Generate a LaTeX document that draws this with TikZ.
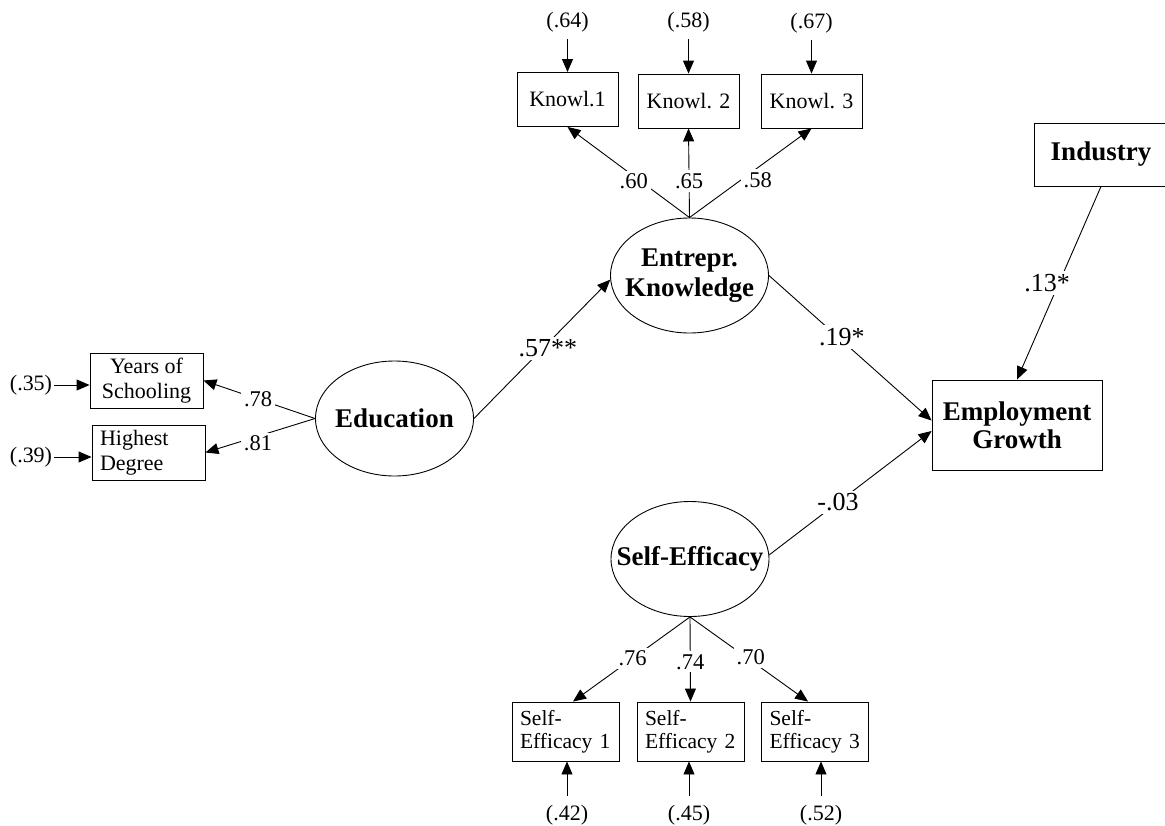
\documentclass[tikz,border=0pt]{standalone}
\usepackage{fontspec}
\setmainfont{Liberation Serif}
\usetikzlibrary{arrows.meta,shapes.geometric}

\begin{document}
\begin{tikzpicture}[x=1pt,y=-1pt,
  every node/.style={inner sep=0pt},
  link/.style={line width=0.9pt},
  arr/.style={link,-{Triangle[length=13pt,width=11pt]}},
  latent/.style={draw,line width=0.9pt,ellipse,minimum width=158pt,minimum height=115pt},
  lattext/.style={align=center,inner sep=0pt,font=\fontsize{27}{30}\selectfont\bfseries},
  obs/.style={draw,line width=0.9pt,rectangle,align=center,font=\fontsize{22}{25}\selectfont},
  bigobs/.style={draw,line width=0.9pt,rectangle,align=center,font=\fontsize{27}{28}\selectfont\bfseries},
  knowbox/.style={obs,minimum width=101pt,minimum height=54pt},
  sebox/.style={obs,minimum width=107pt,minimum height=59pt,text width=91pt,inner xsep=8pt,align=left,font=\fontsize{21.5}{23}\selectfont},
  errlbl/.style={inner sep=2pt,font=\fontsize{22}{24}\selectfont},
  load/.style={fill=white,inner sep=3pt,font=\fontsize{22.5}{24}\selectfont},
  pathlbl/.style={fill=white,inner sep=3pt,font=\fontsize{26}{28}\selectfont}]

\path[use as bounding box,fill=white] (0,0) rectangle (1165,825);

% latent constructs
\node[latent,label={[lattext]center:Entrepr.\\Knowledge}] (ek) at (689.5,275.5) {};
\node[latent,label={[lattext]center:Education}] (edu) at (394.5,418.5) {};
\node[latent,label={[lattext]center:Self-Efficacy}] (se) at (690,559) {};

% indicators of entrepreneurial knowledge
\node[knowbox] (k1) at (567.5,99.5) {Knowl.1};
\node[knowbox] (k2) at (688.5,101) {Knowl. 2};
\node[knowbox] (k3) at (811.5,101) {Knowl. 3};

% indicators of education
\node[obs,minimum width=113pt,minimum height=55pt] (yos) at (146.5,380.5) {Years of\\Schooling};
\node[obs,minimum width=113pt,minimum height=55pt,text width=97pt,inner xsep=8pt,align=left] (hd) at (148.5,452.5) {Highest\\Degree};

% indicators of self-efficacy
\node[sebox] (se1) at (565.5,731.5) {Self-\\Efficacy 1};
\node[sebox] (se2) at (690.5,731.5) {Self-\\Efficacy 2};
\node[sebox] (se3) at (815,731.5) {Self-\\Efficacy 3};

% outcome and control
\node[bigobs,minimum width=170pt,minimum height=90pt] (emp) at (1017,425) {Employment\\Growth};
\node[bigobs,minimum width=134pt,minimum height=63pt] (ind) at (1101,154.5) {Industry};

% error variances
\node[errlbl] (e64) at (567.5,22) {(.64)};
\node[errlbl] (e58) at (688.5,22) {(.58)};
\node[errlbl] (e67) at (811.5,23) {(.67)};
\node[errlbl] (e35) at (31,385) {(.35)};
\node[errlbl] (e39) at (31,457) {(.39)};
\node[errlbl] (e42) at (567,815) {(.42)};
\node[errlbl] (e45) at (689,815) {(.45)};
\node[errlbl] (e52) at (821,815) {(.52)};

\draw[arr,shorten <=5pt] (e64) -- (k1);
\draw[arr,shorten <=5pt] (e58) -- (k2);
\draw[arr,shorten <=5pt] (e67) -- (k3);
\draw[arr] (e35) -- (e35 -| yos.west);
\draw[arr] (e39) -- (e39 -| hd.west);
\draw[arr,shorten <=7pt] (e42) -- (e42 |- se1.south);
\draw[arr,shorten <=7pt] (e45) -- (e45 |- se2.south);
\draw[arr,shorten <=7pt] (e52) -- (e52 |- se3.south);

% factor loadings
\draw[arr] (ek.north) -- node[load,pos=0.40,xshift=-7pt]{.60} (k1.south);
\draw[arr] (ek.north) -- node[load,pos=0.41]{.65} (k2.south);
\draw[arr] (ek.north) -- node[load,pos=0.42,xshift=17pt]{.58} (k3.south);

\draw[arr] (edu.west) -- node[load,pos=0.51]{.78} (yos.east);
\draw[arr] (edu.west) -- node[load,pos=0.52,yshift=-7pt]{.81} (hd.east);

\draw[arr] (se.south) -- node[load,pos=0.49]{.76} (se1.76);
\draw[arr] (se.south) -- node[load,pos=0.53]{.74} (se2.north);
\draw[arr] (se.south) -- node[load,pos=0.48,xshift=4pt]{.70} (se3.103);

% structural paths
\draw[arr] (edu.east) -- node[pathlbl,pos=0.505,xshift=5pt]{.57**} (ek.183);
\draw[arr] (ek.east) -- node[pathlbl,pos=0.424,xshift=4pt]{.19*} (emp.177);
\draw[arr] (se.3) -- node[pathlbl,pos=0.424]{-.03} (emp.184);
\draw[arr] (ind.south) -- node[pathlbl,pos=0.5,xshift=-12pt]{.13*} (emp.north);

\end{tikzpicture}
\end{document}
